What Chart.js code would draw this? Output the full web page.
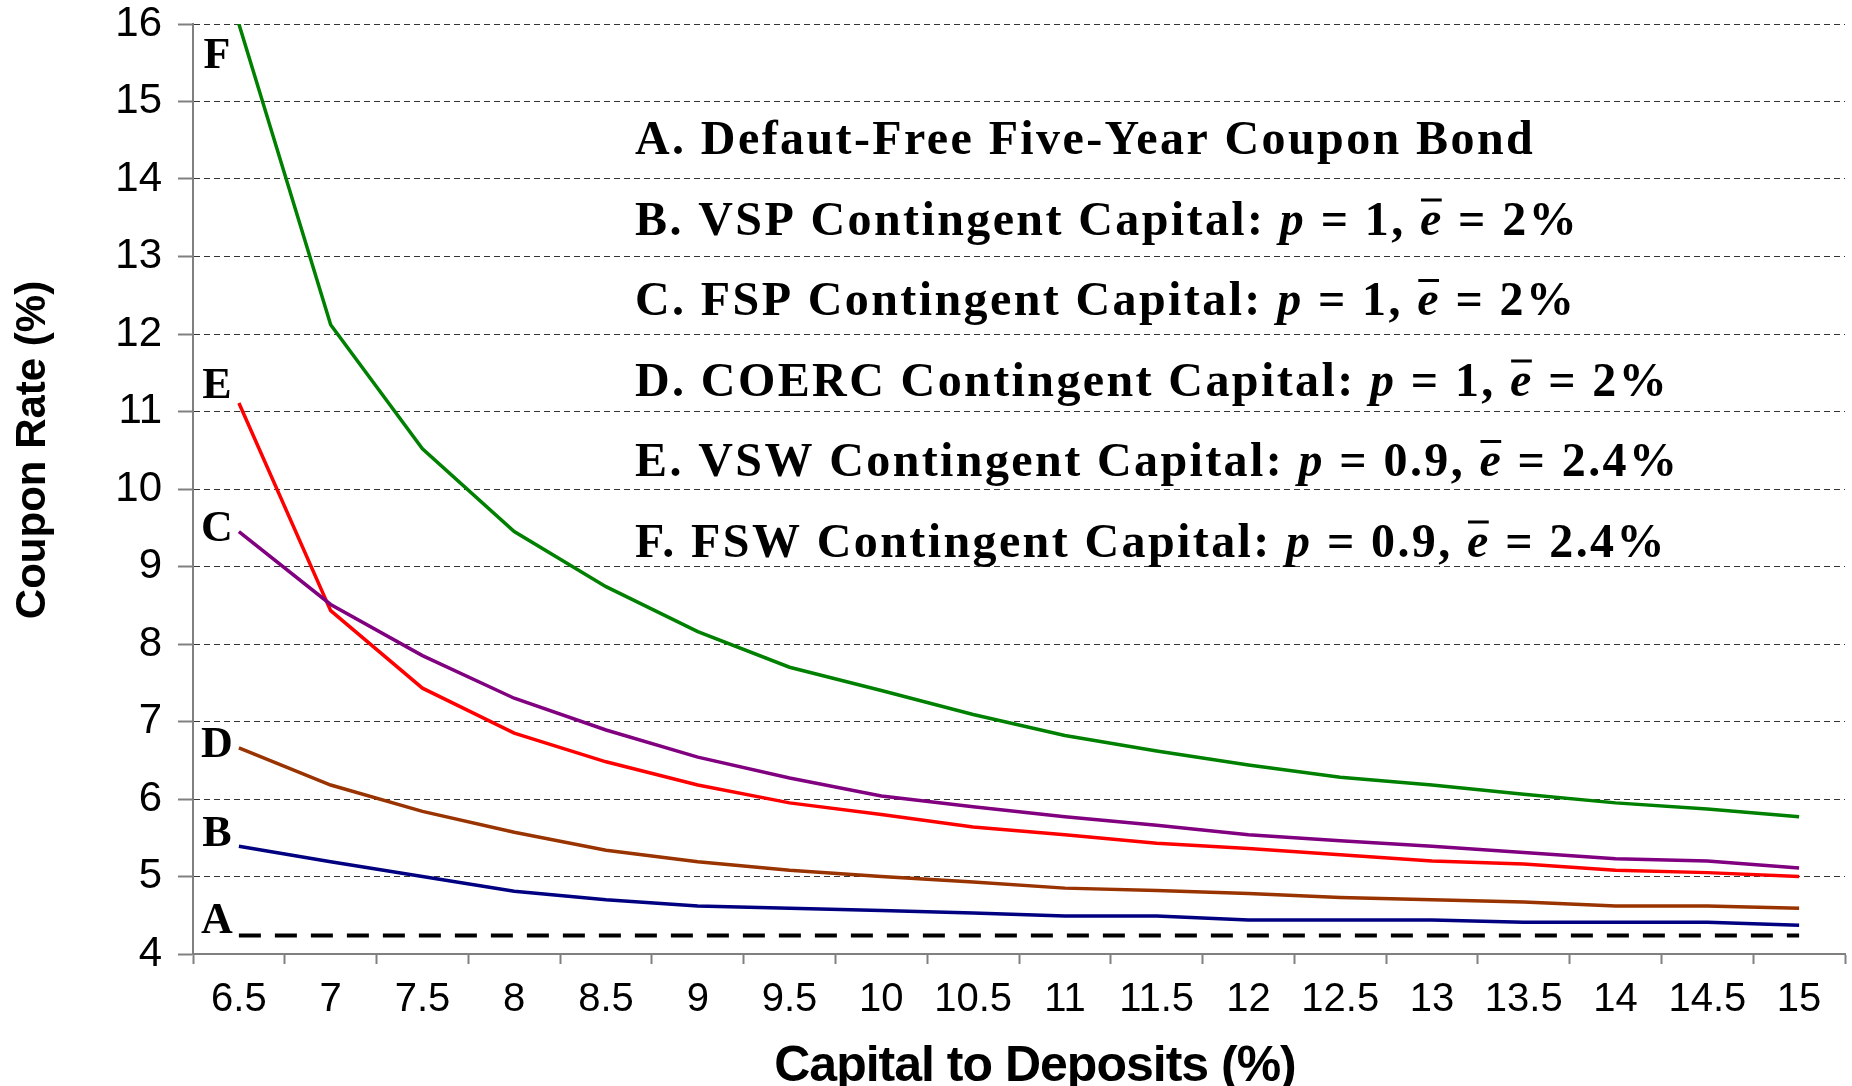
<!DOCTYPE html>
<html>
<head>
<meta charset="utf-8">
<script src="https://cdn.jsdelivr.net/npm/chart.js@4.4.1/dist/chart.umd.min.js"></script>
<style>
html, body { margin: 0; padding: 0; background: #fff; }
#wrap { width: 1852px; height: 1086px; }
</style>
</head>
<body>
<div id="wrap"><canvas id="couponChart"></canvas></div>
<script>
// Data
const capitalToDeposits = ["6.5", "7", "7.5", "8", "8.5", "9", "9.5", "10", "10.5", "11",
    "11.5", "12", "12.5", "13", "13.5", "14", "14.5", "15"];

const defaultFree = [4.24, 4.24, 4.24, 4.24, 4.24, 4.24, 4.24, 4.24, 4.24, 4.24,
    4.24, 4.24, 4.24, 4.24, 4.24, 4.24, 4.24, 4.24];
const vspCapital = [5.39, 5.19, 5.0, 4.81, 4.70, 4.62, 4.59, 4.56, 4.53, 4.49,
    4.49, 4.44, 4.44, 4.44, 4.41, 4.41, 4.41, 4.37];
const fspCapital = [9.45, 8.51, 7.85, 7.30, 6.89, 6.54, 6.27, 6.04, 5.90, 5.77,
    5.66, 5.54, 5.46, 5.39, 5.31, 5.23, 5.20, 5.11];
const coercCapital = [6.66, 6.18, 5.84, 5.57, 5.34, 5.19, 5.08, 5.0, 4.93, 4.85,
    4.82, 4.78, 4.73, 4.70, 4.67, 4.62, 4.62, 4.59];
const vswCapital = [11.11, 8.43, 7.43, 6.85, 6.48, 6.18, 5.95, 5.80, 5.64, 5.54,
    5.43, 5.36, 5.28, 5.20, 5.16, 5.08, 5.05, 5.0];
const fswCapital = [16.0, 12.12, 10.52, 9.45, 8.74, 8.16, 7.70, 7.40, 7.09, 6.82,
    6.62, 6.44, 6.28, 6.18, 6.06, 5.95, 5.87, 5.77];

const curveLetters = ["A", "B", "C", "D", "E", "F"];

// legend text: [text, style]  n = normal, i = italic, e = italic with bar
const legendLines = [
    [["A. Defaut-Free Five-Year Coupon Bond", "n"]],
    [["B. VSP Contingent Capital: ", "n"], ["p", "i"], [" = 1, ", "n"], ["e", "e"], [" = 2%", "n"]],
    [["C. FSP Contingent Capital: ", "n"], ["p", "i"], [" = 1, ", "n"], ["e", "e"], [" = 2%", "n"]],
    [["D. COERC Contingent Capital: ", "n"], ["p", "i"], [" = 1, ", "n"], ["e", "e"], [" = 2%", "n"]],
    [["E. VSW Contingent Capital: ", "n"], ["p", "i"], [" = 0.9, ", "n"], ["e", "e"], [" = 2.4%", "n"]],
    [["F. FSW Contingent Capital: ", "n"], ["p", "i"], [" = 0.9, ", "n"], ["e", "e"], [" = 2.4%", "n"]]
];

const SERIF = "'Liberation Serif', 'Times New Roman', serif";
const SANS = "'Liberation Sans', Arial, sans-serif";


// Labels, titles and legend text
const annotations = {
    id: "annotations",
    afterDraw(chart) {
        const ctx = chart.ctx;
        const xs = chart.scales.x;
        const ys = chart.scales.y;
        const series = chart.data.datasets;

        ctx.save();
        ctx.fillStyle = "#000";

        // curve letters next to first points
        const letterDy = [-14, -12, -2, -2, -16, 33];
        ctx.font = "bold 44px " + SERIF;
        ctx.textAlign = "center";
        ctx.textBaseline = "middle";
        series.forEach((ds, i) => {
            const x = xs.getPixelForValue(0) - 22;
            const y = ys.getPixelForValue(ds.data[0]) + letterDy[i];
            ctx.fillText(curveLetters[i], x, y);
        });

        // legend block
        ctx.textAlign = "left";
        ctx.textBaseline = "alphabetic";
        ctx.letterSpacing = "2.4px";
        legendLines.forEach((parts, i) => {
            let x = 635;
            const y = 154 + i * 80.5;
            parts.forEach(([text, style]) => {
                ctx.font = (style === "n" ? "bold " : "italic bold ") + "48px " + SERIF;
                ctx.fillText(text, x, y);
                const w = ctx.measureText(text).width;
                if (style === "e") {
                    ctx.fillRect(x + 1, y - 36, w - 3, 3);
                }
                x += w;
            });
        });
        ctx.letterSpacing = "0px";

        // axis titles
        ctx.font = "bold 42px " + SANS;
        ctx.textAlign = "center";
        ctx.textBaseline = "middle";
        ctx.save();
        ctx.translate(33, 450);
        ctx.rotate(-Math.PI / 2);
        ctx.fillText("Coupon Rate (%)", 0, 0);
        ctx.restore();

        ctx.font = "bold 50px " + SANS;
        ctx.letterSpacing = "-1px";
        ctx.fillText("Capital to Deposits (%)", 1035, 1067);
        ctx.restore();
    }
};


// Chart
const ctx = document.getElementById("couponChart");

function line(data, color, width, dash) {
    return {
        data: data,
        borderColor: color,
        backgroundColor: color,
        borderWidth: width,
        borderDash: dash || [],
        pointRadius: 0,
        tension: 0,
        fill: false
    };
}

const chart = new Chart(ctx, {

    type: "line",

    data: {
        labels: capitalToDeposits,
        datasets: [
            line(defaultFree, "#000000", 4, [22, 14]),
            line(vspCapital, "#000080", 3.5),
            line(fspCapital, "#800080", 3.5),
            line(coercCapital, "#993300", 3.5),
            line(vswCapital, "#ff0000", 3.5),
            line(fswCapital, "#008000", 3.5)
        ]
    },

    options: {
        responsive: true,
        maintainAspectRatio: false,
        animation: false,
        layout: { padding: { top: 24, right: 7, left: 0, bottom: 0 } },
        plugins: {
            legend: { display: false },
            tooltip: { enabled: false }
        },
        scales: {
            x: {
                type: "category",
                offset: true,
                afterFit(scale) { scale.height = 132; },
                grid: {
                    drawOnChartArea: false,
                    offset: true,
                    tickLength: 10,
                    tickColor: "#808080",
                    tickWidth: 2
                },
                border: { color: "#808080", width: 2 },
                ticks: {
                    color: "#000",
                    font: { family: SANS, size: 40 },
                    padding: 12,
                    maxRotation: 0,
                    autoSkip: false
                }
            },
            y: {
                min: 4,
                max: 16,
                afterFit(scale) {
                    scale.width = 193;
                    scale.paddingTop = 0;
                    scale.paddingBottom = 0;
                },
                grid: {
                    color: (c) => (c.tick && c.tick.value === 4 ? "rgba(0,0,0,0)" : "#333"),
                    lineWidth: 1,
                    tickColor: "#808080",
                    tickWidth: 2,
                    tickLength: 15,
                    tickBorderDash: []
                },
                border: { color: "#808080", width: 2, dash: [6, 4] },
                ticks: {
                    stepSize: 1,
                    color: "#000",
                    font: { family: SANS, size: 42 },
                    padding: 16
                }
            }
        }
    },

    plugins: [annotations]
});
</script>
</body>
</html>
